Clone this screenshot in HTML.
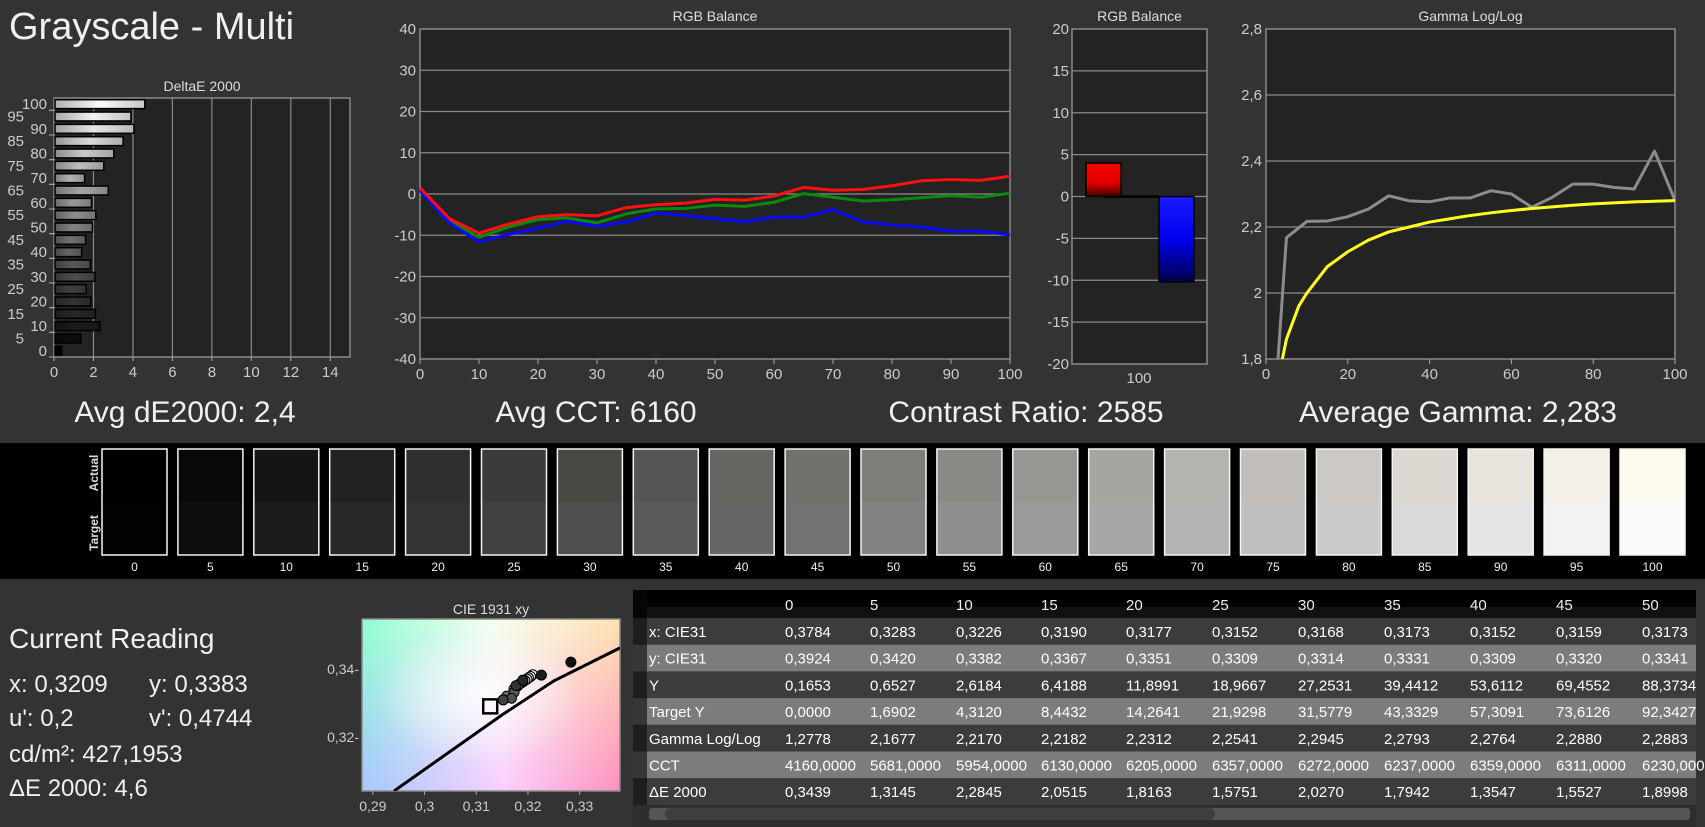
<!DOCTYPE html>
<html><head><meta charset="utf-8"><style>
html,body{margin:0;padding:0;background:#333;width:1705px;height:827px;overflow:hidden}
svg{display:block}
text{font-family:"Liberation Sans",sans-serif}
</style></head><body>
<svg id="s" width="1705" height="827" xmlns="http://www.w3.org/2000/svg">
<rect x="0" y="0" width="1705" height="827" fill="#333"/>
<text x="9" y="39" font-size="38" fill="#f0f0f0">Grayscale - Multi</text>
</svg>
<script>
const levels=[0,5,10,15,20,25,30,35,40,45,50,55,60,65,70,75,80,85,90,95,100];
const deltaE=[0.34,1.31,2.28,2.05,1.82,1.58,2.03,1.79,1.35,1.55,1.90,2.07,1.85,2.70,1.50,2.47,2.98,3.45,4.00,3.85,4.55];
const redBal=[1.5,-6,-9.5,-7.3,-5.5,-5,-5.3,-3.3,-2.6,-2.2,-1.3,-1.5,-0.5,1.6,0.9,1.1,2,3.2,3.5,3.3,4.3];
const greenBal=[1,-6.5,-10.5,-8,-6.2,-5.8,-7,-4.8,-3.6,-3.5,-2.7,-3,-2,0.1,-0.8,-1.7,-1.4,-0.9,-0.4,-0.8,0.2];
const blueBal=[0.8,-7,-11.6,-9.8,-8.3,-6.6,-7.8,-6.8,-4.6,-5.2,-6,-6.7,-5.6,-5.6,-3.8,-6.7,-7.5,-8,-9,-9,-9.9];
const avgBal=[4,-10.2];
const gammaMeas=[1.2778,2.1677,2.217,2.2182,2.2312,2.2541,2.2945,2.2793,2.2764,2.288,2.2883,2.31,2.30,2.26,2.29,2.33,2.33,2.32,2.315,2.43,2.28];
const gammaTgtX=[4,5,8,10,15,20,25,30,35,40,45,50,55,60,65,70,75,80,85,90,95,100];
const gammaTgt=[1.8,1.86,1.96,2.0,2.08,2.125,2.16,2.185,2.2,2.215,2.225,2.235,2.243,2.25,2.256,2.261,2.266,2.27,2.273,2.276,2.278,2.28];
const tgtGray=[3,14,28,40,51,65,78,90,102,114,131,142,154,166,179,191,203,217,230,242,250];
const actColor=['#020000','#0a0806','#161514','#222120','#302f2d','#3d3b3a','#4a4845','#575553','#676562','#73716e','#7e7d7a','#8a8985','#979692','#a6a5a0','#b4b3af','#c1bdb8','#ccc9c4','#dbd8d2','#e6e4dd','#f4f0e8','#fffaee'];
const cieX=[0.3283,0.3226,0.3190,0.3177,0.3152,0.3168,0.3173,0.3152,0.3159,0.3173,0.3176,0.3180,0.3183,0.3186,0.3190,0.3194,0.3198,0.3201,0.3205,0.3209];
const cieY=[0.3420,0.3382,0.3367,0.3351,0.3309,0.3314,0.3331,0.3309,0.3320,0.3341,0.3345,0.3350,0.3355,0.3358,0.3362,0.3366,0.3370,0.3374,0.3378,0.3383];
const locusX=[0.2941,0.305,0.315,0.325,0.3378];
const locusY=[0.3041,0.3158,0.3265,0.3365,0.3462];
const rowLabels=['x: CIE31','y: CIE31','Y','Target Y','Gamma Log/Log','CCT','ΔE 2000'];
const colHeads=['0','5','10','15','20','25','30','35','40','45','50'];
const tableRows=[
['0,3784','0,3283','0,3226','0,3190','0,3177','0,3152','0,3168','0,3173','0,3152','0,3159','0,3173'],
['0,3924','0,3420','0,3382','0,3367','0,3351','0,3309','0,3314','0,3331','0,3309','0,3320','0,3341'],
['0,1653','0,6527','2,6184','6,4188','11,8991','18,9667','27,2531','39,4412','53,6112','69,4552','88,3734'],
['0,0000','1,6902','4,3120','8,4432','14,2641','21,9298','31,5779','43,3329','57,3091','73,6126','92,3427'],
['1,2778','2,1677','2,2170','2,2182','2,2312','2,2541','2,2945','2,2793','2,2764','2,2880','2,2883'],
['4160,0000','5681,0000','5954,0000','6130,0000','6205,0000','6357,0000','6272,0000','6237,0000','6359,0000','6311,0000','6230,0000'],
['0,3439','1,3145','2,2845','2,0515','1,8163','1,5751','2,0270','1,7942','1,3547','1,5527','1,8998']];

const NS='http://www.w3.org/2000/svg';
const S=document.getElementById('s');
function el(tag,attrs,parent,txt){const e=document.createElementNS(NS,tag);for(const k in attrs)e.setAttribute(k,attrs[k]);if(txt!==undefined)e.textContent=txt;(parent||S).appendChild(e);return e;}
function lin(d0,d1,r0,r1){return v=>r0+(v-d0)*(r1-r0)/(d1-d0);}
const defs=el('defs',{});

// ---------- DeltaE chart ----------
(function(){
const g=el('g',{});


const L=54,R=350,T=98,B=357;
const x=lin(0,15,L,R);
const bandH=(B-T)/21;
const yc=i=>B-(i+0.5)*bandH;
el('rect',{x:L,y:T,width:R-L,height:B-T,fill:'#232323',stroke:'#8a8a8a','stroke-width':1.5},g);
[2,4,6,8,10,12,14].forEach(v=>{const gl=el('line',{x1:x(v),x2:x(v),y1:T,y2:B,stroke:'#8a8a8a','stroke-width':1.2},g);});
[0,2,4,6,8,10,12,14].forEach(v=>{const t=el('text',{x:x(v),y:B+20,'font-size':15,fill:'#ccc','text-anchor':'middle'},g,String(v));
el('line',{x1:x(v),x2:x(v),y1:B,y2:B+4,stroke:'#aaa'},g);});
const gr=el('linearGradient',{id:'bg0',x1:0,x2:1,y1:0,y2:0},defs);
levels.forEach((lv,i)=>{
 const c=tgtGray[i];
 const gid='bgr'+i;
 const lg=el('linearGradient',{id:gid,x1:0,x2:1,y1:0,y2:0},defs);
 el('stop',{offset:0,'stop-color':`rgb(${Math.round(c*0.7)},${Math.round(c*0.7)},${Math.round(c*0.7)})`},lg);
 el('stop',{offset:0.5,'stop-color':`rgb(${c},${c},${c})`},lg);
 el('stop',{offset:1,'stop-color':`rgb(${Math.round(c*0.8)},${Math.round(c*0.8)},${Math.round(c*0.8)})`},lg);
 const b=el('rect',{x:L+1,y:yc(i)-bandH*0.36,width:x(deltaE[i])-L,height:bandH*0.72,fill:'url(#'+gid+')',stroke:'#000','stroke-width':1.5},g);
 
 
 const odd=i%2===1;
 const t=el('text',{x:odd?22:L-5,y:yc(i)+5,'font-size':15,fill:'#ccc','text-anchor':odd?'end':'end'},g,String(lv));
 if(!odd){t.setAttribute('x',L-7);} else {t.setAttribute('x',24);}
 
 
 el('line',{x1:L-5,x2:L,y1:yc(i)+(odd?-bandH*0.5:bandH*0.5),y2:yc(i)+(odd?-bandH*0.5:bandH*0.5),stroke:'#aaa'},g);
});
const tt=el('text',{x:(L+R)/2,y:91,'font-size':14,fill:'#ddd','text-anchor':'middle'},g,'DeltaE 2000');

})();

// ---------- RGB balance line chart ----------
(function(){
const g=el('g',{});


const L=420,R=1010,T=29,B=359;
const x=lin(0,100,L,R),y=lin(-40,40,B,T);
el('rect',{x:L,y:T,width:R-L,height:B-T,fill:'#232323',stroke:'#8a8a8a','stroke-width':1.5},g);
[-30,-20,-10,0,10,20,30].forEach(v=>{const gl=el('line',{x1:L,x2:R,y1:y(v),y2:y(v),stroke:'#8a8a8a','stroke-width':1.2},g);});
[-40,-30,-20,-10,0,10,20,30,40].forEach(v=>{const t=el('text',{x:L-4,y:y(v)+5,'font-size':15,fill:'#ccc','text-anchor':'end'},g,String(v));});
[0,10,20,30,40,50,60,70,80,90,100].forEach(v=>{el('line',{x1:x(v),x2:x(v),y1:B,y2:B+5,stroke:'#aaa'},g);const t=el('text',{x:x(v),y:B+20,'font-size':15,fill:'#ccc','text-anchor':'middle'},g,String(v));});
[[greenBal,'#0a8a0a','green'],[blueBal,'#0a0aff','blue'],[redBal,'#ff1010','red']].forEach(([d,c,n])=>{
 const p=el('polyline',{points:levels.map((lv,i)=>x(lv)+','+y(d[i])).join(' '),fill:'none',stroke:c,'stroke-width':3,'stroke-linejoin':'round'},g);
 
 
});
const tt=el('text',{x:(L+R)/2,y:21,'font-size':14,fill:'#ddd','text-anchor':'middle'},g,'RGB Balance');

})();

// ---------- RGB balance bar chart ----------
(function(){
const g=el('g',{});


const L=1072,R=1207,T=29,B=364;
const y=lin(-20,20,B,T);
el('rect',{x:L,y:T,width:R-L,height:B-T,fill:'#232323',stroke:'#8a8a8a','stroke-width':1.5},g);
[-15,-10,-5,0,5,10,15].forEach(v=>el('line',{x1:L,x2:R,y1:y(v),y2:y(v),stroke:'#8a8a8a','stroke-width':1.2},g));
[-20,-15,-10,-5,0,5,10,15,20].forEach(v=>{const t=el('text',{x:L-3,y:y(v)+5,'font-size':15,fill:'#ccc','text-anchor':'end'},g,String(v));});
const rg=el('linearGradient',{id:'rgr',x1:0,x2:0,y1:0,y2:1},defs);el('stop',{offset:0,'stop-color':'#ff0000'},rg);el('stop',{offset:0.6,'stop-color':'#e00000'},rg);el('stop',{offset:1,'stop-color':'#400000'},rg);
const bg=el('linearGradient',{id:'bgrb',x1:0,x2:0,y1:0,y2:1},defs);el('stop',{offset:0,'stop-color':'#1a1aff'},bg);el('stop',{offset:0.5,'stop-color':'#0000ee'},bg);el('stop',{offset:1,'stop-color':'#00004a'},bg);
el('line',{x1:1103,x2:1159,y1:y(0),y2:y(0),stroke:'#000','stroke-width':2.5},g);
const rb=el('rect',{x:1086,y:Math.min(y(avgBal[0]),y(0)),width:35,height:Math.abs(y(avgBal[0])-y(0)),fill:'url(#rgr)',stroke:'#000','stroke-width':1.5},g);

const bb=el('rect',{x:1159,y:Math.min(y(avgBal[1]),y(0)),width:35,height:Math.abs(y(avgBal[1])-y(0)),fill:'url(#bgrb)',stroke:'#000','stroke-width':1.5},g);

const xl=el('text',{x:1139,y:383,'font-size':15,fill:'#ccc','text-anchor':'middle'},g,'100');

const tt=el('text',{x:(L+R)/2,y:21,'font-size':14,fill:'#ddd','text-anchor':'middle'},g,'RGB Balance');

})();

// ---------- Gamma chart ----------
(function(){
const g=el('g',{});


const L=1266,R=1675,T=29,B=359;
const x=lin(0,100,L,R),y=lin(1.8,2.8,B,T);
el('clipPath',{id:'gclip'},defs).appendChild(Object.assign(document.createElementNS(NS,'rect'),{})).setAttribute('x',L);
const cr=defs.lastChild.firstChild;cr.setAttribute('y',T);cr.setAttribute('width',R-L);cr.setAttribute('height',B-T);
el('rect',{x:L,y:T,width:R-L,height:B-T,fill:'#232323',stroke:'#8a8a8a','stroke-width':1.5},g);
[2,2.2,2.4,2.6].forEach(v=>el('line',{x1:L,x2:R,y1:y(v),y2:y(v),stroke:'#8a8a8a','stroke-width':1.2},g));
['1,8','2','2,2','2,4','2,6','2,8'].forEach((s,i)=>{const t=el('text',{x:L-4,y:y(1.8+i*0.2)+5,'font-size':15,fill:'#ccc','text-anchor':'end'},g,s);});
[0,20,40,60,80,100].forEach(v=>{el('line',{x1:x(v),x2:x(v),y1:B,y2:B+5,stroke:'#aaa'},g);const t=el('text',{x:x(v),y:B+20,'font-size':15,fill:'#ccc','text-anchor':'middle'},g,String(v));});
const pg=el('g',{'clip-path':'url(#gclip)'},g);
const m=el('polyline',{points:levels.map((lv,i)=>x(lv)+','+y(gammaMeas[i])).join(' '),fill:'none',stroke:'#8c8c8c','stroke-width':3,'stroke-linejoin':'round'},pg);

const t2=el('polyline',{points:gammaTgtX.map((lv,i)=>x(lv)+','+y(gammaTgt[i])).join(' '),fill:'none',stroke:'#ffff20','stroke-width':3,'stroke-linejoin':'round'},pg);

const tt=el('text',{x:(L+R)/2,y:21,'font-size':14,fill:'#ddd','text-anchor':'middle'},g,'Gamma Log/Log');

})();

// ---------- Stat labels ----------
[['Avg dE2000: 2,4',185,'avg-de2000-label'],['Avg CCT: 6160',596,'avg-cct-label'],['Contrast Ratio: 2585',1026,'contrast-ratio-label'],['Average Gamma: 2,283',1458,'average-gamma-label']].forEach(([s,cx,n])=>{
 const t=el('text',{x:cx,y:422,'font-size':30,fill:'#f0f0f0','text-anchor':'middle'},S,s);
 
});

// ---------- Swatch band ----------
(function(){
const g=el('g',{});


el('rect',{x:0,y:443,width:1705,height:136,fill:'#000'},g);
const a=el('text',{x:0,y:0,'font-size':12,fill:'#ddd','font-weight':'bold','text-anchor':'middle',transform:'translate(98,473) rotate(-90)'},g,'Actual');

const tg=el('text',{x:0,y:0,'font-size':12,fill:'#ddd','font-weight':'bold','text-anchor':'middle',transform:'translate(98,533) rotate(-90)'},g,'Target');

levels.forEach((lv,i)=>{
 const x0=102+i*75.9,w=65,top=449,h=106;
 const c=tgtGray[i];
 const sw=el('g',{},g);
 
 
 el('rect',{x:x0,y:top,width:w,height:h/2,fill:actColor[i]},sw);
 el('rect',{x:x0,y:top+h/2,width:w,height:h/2,fill:`rgb(${c},${c},${c})`},sw);
 el('rect',{x:x0,y:top,width:w,height:h,fill:'none',stroke:'#f4f4f4','stroke-width':1.5},sw);
 const t=el('text',{x:x0+w/2,y:571,'font-size':12,fill:'#eee','text-anchor':'middle'},g,String(lv));
 
});
})();

// ---------- Current reading ----------
[['Current Reading',9,648,28,'current-reading-title'],['x: 0,3209',9,692,24,'reading-x'],['y: 0,3383',149,692,24,'reading-y'],["u': 0,2",9,726,24,'reading-u'],["v': 0,4744",149,726,24,'reading-v'],['cd/m²: 427,1953',9,762,24,'reading-luminance'],['ΔE 2000: 4,6',9,796,24,'reading-delta-e']].forEach(([s,x,y,f,n])=>{
 const t=el('text',{x:x,y:y,'font-size':f,fill:'#f0f0f0'},S,s);
 
});

// ---------- CIE chart ----------
(function(){
const g=el('g',{});


const L=362,R=620,T=619,B=791;
const x=lin(0.2879,0.3378,L,R),y=lin(0.3041,0.3547,B,T);
const g1=el('linearGradient',{id:'cg1',x1:0,x2:1,y1:0,y2:0},defs);
el('stop',{offset:0,'stop-color':'#90ffd0'},g1);el('stop',{offset:0.5,'stop-color':'#f4fff0'},g1);el('stop',{offset:1,'stop-color':'#ffe2b0'},g1);
const g2=el('linearGradient',{id:'cg2',x1:0,x2:1,y1:0,y2:0},defs);
el('stop',{offset:0,'stop-color':'#a8c8ff'},g2);el('stop',{offset:0.55,'stop-color':'#fad0ff'},g2);el('stop',{offset:1,'stop-color':'#ff90c0'},g2);
const g3=el('linearGradient',{id:'cg3',x1:0,x2:0,y1:0,y2:1},defs);
el('stop',{offset:0,'stop-color':'#fff','stop-opacity':0},g3);el('stop',{offset:1,'stop-color':'#fff','stop-opacity':1},g3);
const m=el('mask',{id:'cm'},defs);
const mg=el('linearGradient',{id:'cmg',x1:0,x2:0,y1:0,y2:1},defs);
el('stop',{offset:0,'stop-color':'#fff'},mg);el('stop',{offset:1,'stop-color':'#000'},mg);
el('rect',{x:L,y:T,width:R-L,height:B-T,fill:'url(#cmg)'},m);
el('rect',{x:L,y:T,width:R-L,height:B-T,fill:'url(#cg2)'},g);
el('rect',{x:L,y:T,width:R-L,height:B-T,fill:'url(#cg1)',mask:'url(#cm)'},g);
const rgd=el('radialGradient',{id:'crg',cx:0.45,cy:0.45,r:0.4},defs);
el('stop',{offset:0,'stop-color':'#fff','stop-opacity':0.8},rgd);el('stop',{offset:1,'stop-color':'#fff','stop-opacity':0},rgd);
el('rect',{x:L,y:T,width:R-L,height:B-T,fill:'url(#crg)'},g);
el('rect',{x:L,y:T,width:R-L,height:B-T,fill:'none',stroke:'#8a8a8a','stroke-width':1.5},g);
const cl=el('clipPath',{id:'cclip'},defs);el('rect',{x:L,y:T,width:R-L,height:B-T},cl);
const pg=el('g',{'clip-path':'url(#cclip)'},g);
const loc=el('polyline',{points:locusX.map((v,i)=>x(v)+','+y(locusY[i])).join(' '),fill:'none',stroke:'#000','stroke-width':3},pg);

const tsq=el('rect',{x:x(0.3127)-7,y:y(0.329)-7,width:14,height:14,fill:'none',stroke:'#000','stroke-width':2.5},pg);

for(let i=cieX.length-1;i>=0;i--){
 const c=tgtGray[i+1];
 const d=el('circle',{cx:x(cieX[i]),cy:y(cieY[i]),r:5,fill:`rgb(${c},${c},${c})`,stroke:'#000','stroke-width':1},pg);
 
 
}
[[0.29,'0,29'],[0.30,'0,3'],[0.31,'0,31'],[0.32,'0,32'],[0.33,'0,33']].forEach(([v,s])=>{el('line',{x1:x(v),x2:x(v),y1:B,y2:B+4,stroke:'#aaa'},g);const t=el('text',{x:x(v),y:B+20,'font-size':14,fill:'#ccc','text-anchor':'middle'},g,s);});
[[0.34,'0,34'],[0.32,'0,32']].forEach(([v,s])=>{const t=el('text',{x:L-3,y:y(v)+5,'font-size':14,fill:'#ccc','text-anchor':'end'},g,s+'-');});
const tt=el('text',{x:(L+R)/2,y:614,'font-size':14,fill:'#ddd','text-anchor':'middle'},g,'CIE 1931 xy');

})();

// ---------- Table ----------
(function(){
const g=el('g',{});


const L=633,R=1696,T=590,hh=28,rh=26.7;
const cols=[785,870,956,1041,1126,1212,1298,1384,1470,1556,1642];
el('rect',{x:L,y:T,width:R-L,height:hh,fill:'#000'},g);
el('rect',{x:L+14,y:T+hh*0.6,width:R-L-14,height:hh*0.4,fill:'#111'},g);
colHeads.forEach((h,j)=>{const t=el('text',{x:cols[j],y:T+20,'font-size':15,fill:'#eee'},g,h);});
rowLabels.forEach((lab,i)=>{
 const y0=T+hh+i*rh;
 const row=el('g',{},g);
 
 
 el('rect',{x:L,y:y0,width:R-L,height:rh,fill:i%2?'#7c7c7c':'#3c3c3c'},row);
 el('text',{x:649,y:y0+19,'font-size':15,fill:'#fff'},row,lab);
 tableRows[i].forEach((v,j)=>el('text',{x:cols[j],y:y0+19,'font-size':15,fill:'#fff'},row,v));
});
el('rect',{x:L,y:T,width:14,height:hh+7*rh,fill:'#0a0a0a',opacity:0.6},g);
const sy=T+hh+7*rh;
el('rect',{x:L,y:sy,width:R-L,height:827-sy,fill:'#2e2e2e'},g);
el('rect',{x:L+16,y:sy+3,width:R-L-22,height:12,fill:'#555',rx:3},g);
const th=el('rect',{x:L+32,y:sy+3,width:550,height:12,fill:'#3e3e3e',rx:6},g);

})();
</script>
</body></html>
